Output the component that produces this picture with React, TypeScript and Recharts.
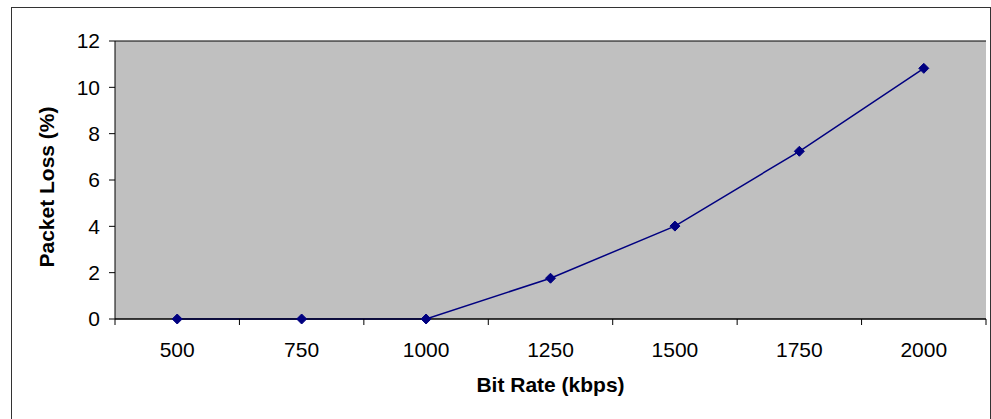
import { LineChart, Line, XAxis, YAxis, CartesianGrid } from 'recharts';

const bitRates = ['500', '750', '1000', '1250', '1500', '1750', '2000'];
const packetLoss = [0, 0, 0, 1.76, 4.01, 7.24, 10.82];
const yTicks = [0, 2, 4, 6, 8, 10, 12];

const chartData = bitRates.map((rate, i) => ({ rate, loss: packetLoss[i] }));

const W = 991;
const H = 419;
const YAXIS_W = 115;
const RIGHT = 5;
const HALF_BAND = (W - YAXIS_W - RIGHT) / bitRates.length / 2;
const FONT = '"Liberation Sans", Arial, sans-serif';

function XTick(props: any) {
  const { x, y, payload, index } = props;
  const last = index === bitRates.length - 1;
  return (
    <g>
      <line x1={x - HALF_BAND} x2={x - HALF_BAND} y1={y} y2={y + 6} stroke="#000" />
      {last && <line x1={x + HALF_BAND} x2={x + HALF_BAND} y1={y} y2={y + 6} stroke="#000" />}
      <text
        x={x}
        y={y + 30}
        textAnchor="middle"
        dominantBaseline="central"
        fontSize={21}
        fontFamily={FONT}
        fill="#000"
      >
        {payload.value}
      </text>
    </g>
  );
}

function Diamond(props: any) {
  const { cx, cy } = props;
  if (cx == null || cy == null) return null;
  const r = 5;
  return (
    <path
      d={`M${cx},${cy - r}L${cx + r},${cy}L${cx},${cy + r}L${cx - r},${cy}Z`}
      fill="#000080"
      stroke="#000080"
    />
  );
}

function YLabel(props: any) {
  const vb = props.viewBox || {};
  const x = 46;
  const y = vb.y + vb.height / 2 + 7;
  return (
    <text
      x={x}
      y={y}
      transform={`rotate(-90 ${x} ${y})`}
      textAnchor="middle"
      dominantBaseline="central"
      fontSize={21}
      fontWeight="bold"
      fontFamily={FONT}
      fill="#000"
    >
      Packet Loss (%)
    </text>
  );
}

export default function App() {
  return (
    <div
      style={{
        position: 'absolute',
        left: 0,
        top: 0,
        width: W,
        height: H,
        overflow: 'hidden',
        background: '#fff',
      }}
    >
      <div
        style={{
          position: 'absolute',
          left: 11,
          top: 7,
          width: 978,
          height: H + 10,
          border: '1px solid #333',
        }}
      />
      <div style={{ position: 'absolute', left: 0, top: 0 }}>
        <LineChart
          width={W}
          height={H}
          data={chartData}
          margin={{ top: 41, right: RIGHT, bottom: 20, left: 0 }}
        >
          <CartesianGrid
            vertical={false}
            stroke="#000"
            fill="#C0C0C0"
            fillOpacity={1}
          />
          <XAxis
            dataKey="rate"
            height={80}
            padding={{ left: HALF_BAND, right: HALF_BAND }}
            tickSize={0}
            tickMargin={0}
            tickLine={false}
            axisLine={{ stroke: '#000' }}
            tick={<XTick />}
            interval={0}
            label={{
              value: 'Bit Rate (kbps)',
              position: 'insideBottom',
              offset: 7,
              fontSize: 21,
              fontWeight: 'bold',
              fontFamily: FONT,
              fill: '#000',
            }}
          />
          <YAxis
            yAxisId="left"
            width={YAXIS_W}
            domain={[0, 12]}
            ticks={yTicks}
            interval={0}
            tickSize={6}
            tickMargin={9}
            tickLine={{ stroke: '#000' }}
            axisLine={{ stroke: '#000' }}
            tick={{ fontSize: 21, fontFamily: FONT, fill: '#000' }}
            label={<YLabel />}
          />
          <YAxis
            yAxisId="right"
            orientation="right"
            width={0}
            tick={false}
            tickLine={false}
            axisLine={{ stroke: '#808080' }}
          />
          <Line
            yAxisId="left"
            dataKey="loss"
            type="linear"
            stroke="#000080"
            strokeWidth={1.5}
            dot={<Diamond />}
            activeDot={false}
            isAnimationActive={false}
          />
        </LineChart>
      </div>
    </div>
  );
}
